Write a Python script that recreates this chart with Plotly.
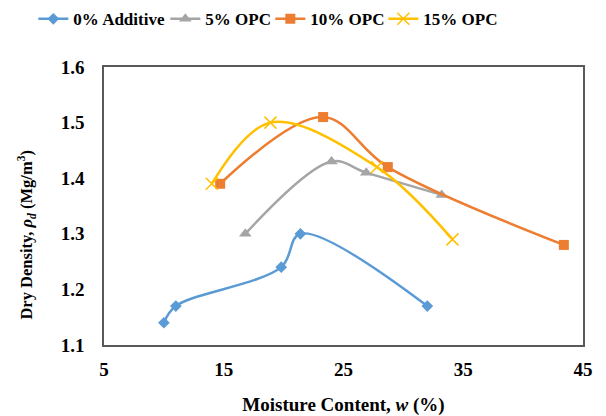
import plotly.graph_objects as go

# Compaction curves: moisture content (%) vs dry density (Mg/m^3)
series_names = ["0% Additive", "5% OPC", "10% OPC", "15% OPC"]

w_0 = [10.0, 11.0, 19.8, 21.4, 32.0]
rho_0 = [1.14, 1.17, 1.24, 1.30, 1.17]

w_5 = [16.8, 24.0, 26.9, 33.2]
rho_5 = [1.30, 1.43, 1.41, 1.37]

w_10 = [14.7, 23.3, 28.7, 43.4]
rho_10 = [1.39, 1.51, 1.42, 1.28]

w_15 = [14.0, 18.9, 27.8, 34.1]
rho_15 = [1.39, 1.50, 1.42, 1.29]

x_ticks = [5, 15, 25, 35, 45]
y_ticks = [1.1, 1.2, 1.3, 1.4, 1.5, 1.6]

colors = ["#5B9BD5", "#A5A5A5", "#ED7D31", "#FFC000"]
symbols = ["diamond", "triangle-up", "square", "x-thin-open"]
sizes = [9, 11, 10, 12]
legend_widths = [87, 60, 68, 72]

font_family = "Liberation Serif"

fig = go.Figure()
for name, xs, ys, c, s, sz, lw in zip(series_names, [w_0, w_5, w_10, w_15],
                                      [rho_0, rho_5, rho_10, rho_15],
                                      colors, symbols, sizes, legend_widths):
    marker = dict(symbol=s, size=sz, color=c)
    if s == "x-thin-open":
        marker["line"] = dict(color=c, width=1.5)
    fig.add_trace(go.Scatter(
        x=xs, y=ys, name=f"<b>{name}</b>", mode="lines+markers",
        line=dict(color=c, width=2.5, shape="spline", smoothing=1.0),
        marker=marker, legendwidth=lw,
    ))

axis_common = dict(
    showgrid=False, zeroline=False, showline=True, mirror=True,
    linecolor="#595959", linewidth=1.5, ticks="",
    tickfont=dict(family=font_family, size=19, color="#000000"),
    automargin=False,
)

fig.update_layout(
    width=606, height=416,
    margin=dict(l=104, r=23, t=67, b=71),
    paper_bgcolor="white", plot_bgcolor="white",
    font=dict(family=font_family, color="#000000"),
    legend=dict(
        orientation="h", xref="container", x=0.055, xanchor="left",
        yref="container", y=0.997, yanchor="top",
        font=dict(family=font_family, size=17, color="#000000"),
        itemwidth=30, tracegroupgap=0,
    ),
    xaxis=dict(
        range=[5, 45], tickvals=x_ticks, ticktext=[f"<b>{v}</b>" for v in x_ticks],
        ticklabelstandoff=6,
        title=dict(text="<b>Moisture Content, <i>w</i> (%)</b>",
                   font=dict(family=font_family, size=19), standoff=27),
        **axis_common,
    ),
    yaxis=dict(
        range=[1.1, 1.6], tickvals=y_ticks, ticktext=[f"<b>{v:.1f}</b>" for v in y_ticks],
        ticklabelstandoff=14,
        **axis_common,
    ),
    annotations=[dict(
        text="<b>Dry Density, <i>ρ<sub>d</sub></i> (Mg/m<sup>3</sup>)</b>",
        xref="paper", yref="paper", x=-0.163, y=0.397,
        xanchor="center", yanchor="middle", textangle=-90, showarrow=False,
        font=dict(family=font_family, size=16.5, color="#000000"),
    )],
)

fig.write_html("out.html")
